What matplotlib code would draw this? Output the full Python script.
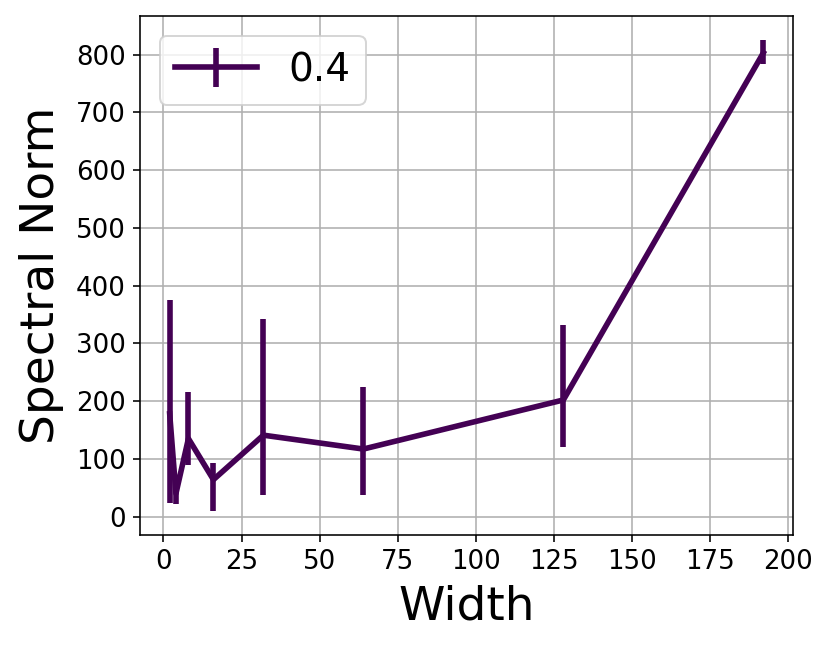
import matplotlib
matplotlib.use("Agg")
import matplotlib.pyplot as plt
import numpy as np

widths = [2, 4, 8, 16, 32, 64, 128, 192]
spectral_norm = [178, 40, 135, 64, 141, 117, 202, 803]
err_lower = [155, 19, 45, 55, 104, 80, 82, 20]
err_upper = [197, 21, 80, 28, 202, 108, 130, 23]
label = "0.4"
color = "#440154"

DPI = 144
fig = plt.figure(figsize=(831/DPI, 649/DPI), dpi=DPI)
ax = fig.add_axes([140/831, 1-535/649, (793-140)/831, (535-16)/649])
ax.errorbar(widths, spectral_norm, yerr=[err_lower, err_upper], color=color,
            linewidth=2.8, elinewidth=2.8, label=label)
ax.grid(True)
ax.set_axisbelow(True)
ax.set_xlabel("Width", fontsize=23.5, labelpad=5)
ax.set_ylabel("Spectral Norm", fontsize=23.5, labelpad=6)
ax.tick_params(labelsize=13)
ax.set_xticks([0, 25, 50, 75, 100, 125, 150, 175, 200])
ax.set_yticks([0, 100, 200, 300, 400, 500, 600, 700, 800])
ax.legend(loc="upper left", fontsize=19.5, handlelength=2.1)
fig.savefig("out.png", dpi=DPI)
